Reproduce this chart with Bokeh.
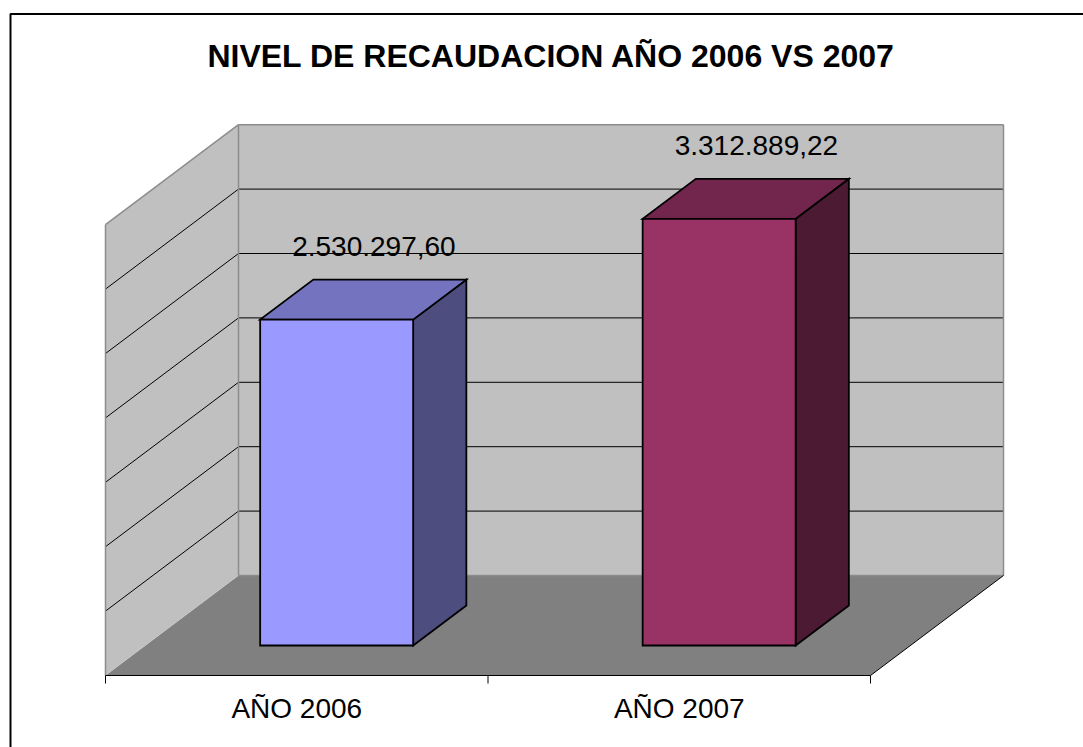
from bokeh.plotting import figure
from bokeh.models import Range1d
from bokeh.embed import file_html
from bokeh.resources import INLINE
from bokeh.core.properties import value

# ---------------- data ----------------
title_text = "NIVEL DE RECAUDACION AÑO 2006 VS 2007"
categories = ["AÑO 2006", "AÑO 2007"]
values = [2530297.60, 3312889.22]
value_labels = ["2.530.297,60", "3.312.889,22"]
grid_step = 500000
axis_max = 3500000

# ---------------- styles ----------------
front_colors = ["#9999FF", "#993366"]
top_colors = ["#7373BF", "#73264D"]
side_colors = ["#4D4D80", "#4D1A33"]
WALL = "#C0C0C0"
FLOOR = "#808080"
WALL_EDGE = "#8C8C8C"

# ---------------- layout (screen px) ----------------
W, H = 1083, 747
MARGIN = 0
ORIGIN_X, ORIGIN_Y = 105, 675        # front-left corner of the floor
CAT_PX = 382.5                        # width of one category on the front edge
PX_PER_VALUE = 64.4 / 500000
DEPTH_DX, DEPTH_DY = 133, 100         # oblique offset of the back plane
BAR_WIDTH = 0.4
BAR_D0, BAR_D1 = 0.3, 0.7
TEXT_FIX = 0.37                       # baseline correction (fraction of font size)

DXC = DEPTH_DX / CAT_PX
DYV = DEPTH_DY / PX_PER_VALUE


def proj(c, d, v):
    return c + d * DXC, v + d * DYV


def px_x(sx):
    return (sx - ORIGIN_X) / CAT_PX


def px_y(sy):
    return (ORIGIN_Y - sy) / PX_PER_VALUE


def pxlen(n):
    return n / PX_PER_VALUE


x_start, x_end = px_x(MARGIN), px_x(MARGIN + W)
y_start, y_end = px_y(MARGIN + H), px_y(MARGIN)

p = figure(width=W, height=H, x_range=Range1d(x_start, x_end),
           y_range=Range1d(y_start, y_end), x_axis_type=None, y_axis_type=None,
           output_backend="svg", toolbar_location=None, min_border=0,
           outline_line_color=None, background_fill_color="white",
           border_fill_color="white")
p.grid.visible = False

ncat = len(categories)

# chart border (only top/left are inside the window)
p.quad(left=[px_x(10)], right=[x_end + 1], top=[px_y(13.5)], bottom=[y_start - pxlen(50)],
       fill_color=None, line_color="black", line_width=2)

# floor
fl = [proj(0, 0, 0), proj(ncat, 0, 0), proj(ncat, 1, 0), proj(0, 1, 0)]
p.patch([q[0] for q in fl], [q[1] for q in fl], fill_color=FLOOR, line_color=None)

# back wall and side wall
bw = [proj(0, 1, 0), proj(ncat, 1, 0), proj(ncat, 1, axis_max), proj(0, 1, axis_max)]
sw = [proj(0, 0, 0), proj(0, 1, 0), proj(0, 1, axis_max), proj(0, 0, axis_max)]
p.patches([[q[0] for q in bw], [q[0] for q in sw]], [[q[1] for q in bw], [q[1] for q in sw]],
          fill_color=WALL, line_color=None)

# gridlines
gx, gy = [], []
v = grid_step
while v < axis_max - 1:
    a, b = proj(0, 1, v), proj(ncat, 1, v)
    gx.append([a[0], b[0]]); gy.append([a[1], b[1]])
    a, b = proj(0, 0, v), proj(0, 1, v)
    gx.append([a[0], b[0]]); gy.append([a[1], b[1]])
    v += grid_step
p.multi_line(gx, gy, line_color="black", line_width=1)

# wall edges
edges = [
    [proj(0, 1, 0), proj(ncat, 1, 0)],
    [proj(ncat, 1, 0), proj(ncat, 1, axis_max)],
    [proj(0, 1, axis_max), proj(ncat, 1, axis_max)],
    [proj(0, 1, 0), proj(0, 1, axis_max)],
    [proj(0, 0, axis_max), proj(0, 1, axis_max)],
    [proj(0, 0, 0), proj(0, 0, axis_max)],
]
p.multi_line([[e[0][0], e[1][0]] for e in edges], [[e[0][1], e[1][1]] for e in edges],
             line_color=WALL_EDGE, line_width=1.5)

# floor right edge and category axis
fe = [[proj(ncat, 0, 0), proj(ncat, 1, 0)], [proj(0, 0, 0), proj(ncat, 0, 0)]]
p.multi_line([[e[0][0], e[1][0]] for e in fe], [[e[0][1], e[1][1]] for e in fe],
             line_color="black", line_width=1)
ticks = list(range(ncat + 1))
p.segment(x0=ticks, y0=[0] * len(ticks), x1=ticks, y1=[-pxlen(8)] * len(ticks),
          line_color="black", line_width=1)

# bars
for i, val in enumerate(values):
    c0 = i + (1 - BAR_WIDTH) / 2
    c1 = c0 + BAR_WIDTH
    side = [proj(c1, BAR_D0, 0), proj(c1, BAR_D1, 0), proj(c1, BAR_D1, val), proj(c1, BAR_D0, val)]
    top = [proj(c0, BAR_D0, val), proj(c1, BAR_D0, val), proj(c1, BAR_D1, val), proj(c0, BAR_D1, val)]
    front = [proj(c0, BAR_D0, 0), proj(c1, BAR_D0, 0), proj(c1, BAR_D0, val), proj(c0, BAR_D0, val)]
    for poly, col in ((side, side_colors[i]), (top, top_colors[i]), (front, front_colors[i])):
        p.patch([q[0] for q in poly], [q[1] for q in poly], fill_color=col,
                line_color="black", line_width=1.8, line_join="miter")

LABEL_FS = 28
TITLE_FS = 32

# value labels
lx = [proj(i + 0.5, 0.58, 0)[0] for i in range(ncat)]
ly = [proj(0, 1, val)[1] - pxlen(7) + pxlen(TEXT_FIX * LABEL_FS) for val in values]
p.text(x=lx, y=ly, text=value_labels, text_align="center", text_baseline="alphabetic",
       text_font=value("Liberation Sans"), text_font_size=f"{LABEL_FS}px", text_color="black")

# category labels
p.text(x=[i + 0.5 for i in range(ncat)], y=[-pxlen(43) + pxlen(TEXT_FIX * LABEL_FS)] * ncat,
       text=categories, text_align="center", text_baseline="alphabetic",
       text_font=value("Liberation Sans"), text_font_size=f"{LABEL_FS}px", text_color="black")

# title
p.text(x=[px_x(551)], y=[px_y(67) + pxlen(TEXT_FIX * TITLE_FS)], text=[title_text],
       text_align="center", text_baseline="alphabetic", text_font=value("Liberation Sans"),
       text_font_style="bold", text_font_size=f"{TITLE_FS}px", text_color="black")

open("out.html", "w").write(file_html(p, INLINE))
